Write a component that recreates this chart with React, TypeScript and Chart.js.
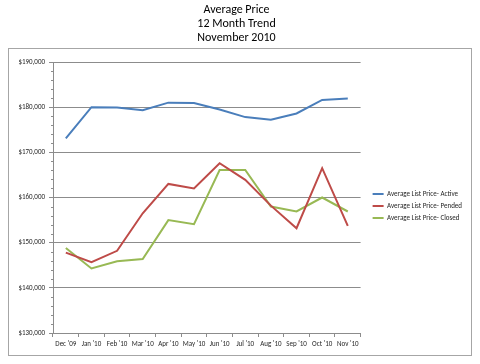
import { useEffect, useRef } from 'react';
import { Chart, registerables } from 'chart.js';

Chart.register(...registerables);

const categories = ["Dec '09", "Jan '10", "Feb '10", "Mar '10", "Apr '10", "May '10", "Jun '10", "Jul '10", "Aug '10", "Sep '10", "Oct '10", "Nov '10"];
const activeValues = [173100, 180000, 179900, 179300, 181000, 180900, 179500, 177800, 177200, 178600, 181600, 181900];
const pendedValues = [147800, 145700, 148200, 156500, 163000, 162000, 167600, 163900, 158200, 153200, 166500, 153700];
const closedValues = [148800, 144300, 145900, 146400, 155000, 154100, 166100, 166100, 158000, 156900, 160000, 156900];
const seriesLabels = ['Average List Price- Active', 'Average List Price- Pended', 'Average List Price- Closed'];
const seriesColors = ['#4a7ebb', '#be4b48', '#98b954'];
const titleLines = ['Average Price', '12 Month Trend', 'November 2010'];
const yMin = 130000;
const yMax = 190000;
const yStep = 10000;
const yMinorStep = 2000;

const FONT = 'Carlito, Lato, "Liberation Sans", sans-serif';
const LEGEND_SHIFT_X = 7;
const LEGEND_SHIFT_Y = 30;

const framePlugin = {
  id: 'frame',
  beforeDraw(chart: any) {
    const ctx = chart.ctx;
    ctx.save();
    ctx.fillStyle = '#ffffff';
    ctx.fillRect(0, 0, chart.width, chart.height);
    ctx.restore();
  },
  afterLayout(chart: any) {
    const lg = chart.legend;
    if (lg) {
      lg.left += LEGEND_SHIFT_X;
      lg.right += LEGEND_SHIFT_X;
      lg.top += LEGEND_SHIFT_Y;
      lg.bottom += LEGEND_SHIFT_Y;
    }
  },
  afterDraw(chart: any) {
    const ctx = chart.ctx;
    const y = chart.scales.y;
    ctx.save();
    ctx.strokeStyle = '#a6a6a6';
    ctx.lineWidth = 1;
    ctx.strokeRect(8.5, 48.5, 463, 307);
    ctx.strokeStyle = '#8c8c8c';
    for (let v = yMin; v <= yMax; v += yMinorStep) {
      if (v % yStep === 0) continue;
      const py = Math.round(y.getPixelForValue(v)) + 0.5;
      ctx.beginPath();
      ctx.moveTo(y.right - 2, py);
      ctx.lineTo(y.right, py);
      ctx.stroke();
    }
    ctx.restore();
  },
};

export default function App() {
  const ref = useRef<HTMLCanvasElement | null>(null);
  useEffect(() => {
    if (!ref.current) return;
    const mk = (i: number, data: number[]) => ({
      label: seriesLabels[i],
      data,
      borderColor: seriesColors[i],
      backgroundColor: seriesColors[i],
      borderWidth: 2,
      pointRadius: 0,
      tension: 0,
    });
    const chart = new Chart(ref.current, {
      type: 'line',
      data: {
        labels: categories,
        datasets: [mk(0, activeValues), mk(1, pendedValues), mk(2, closedValues)],
      },
      plugins: [framePlugin],
      options: {
        animation: false,
        responsive: false,
        devicePixelRatio: 1,
        layout: { padding: { left: 8, right: 15, top: 0, bottom: 12 } },
        plugins: {
          title: {
            display: true,
            text: titleLines,
            color: '#000',
            font: { family: FONT, size: 12, weight: 'normal', lineHeight: 14 / 12 },
            padding: { top: 3, bottom: 17 },
          },
          legend: {
            position: 'right',
            align: 'center',
            labels: {
              color: '#262626',
              font: { family: FONT, size: 7 },
              boxWidth: 11,
              boxHeight: 2,
              padding: 5,
              generateLabels: (c: any) =>
                (Chart.defaults.plugins.legend.labels.generateLabels as any)(c).map((l: any) => ({ ...l, lineWidth: 0 })),
            },
          },
          tooltip: { enabled: false },
        },
        scales: {
          x: {
            offset: true,
            grid: { display: true, drawOnChartArea: false, offset: true, tickLength: 4, color: '#8c8c8c' },
            border: { color: '#8c8c8c' },
            ticks: { color: '#262626', font: { family: FONT, size: 7 }, padding: 3, maxRotation: 0, autoSkip: false },
            afterFit: (s: any) => { s.height = 19; },
          },
          y: {
            min: yMin,
            max: yMax,
            grid: { color: '#8c8c8c', tickLength: 4 },
            border: { color: '#8c8c8c' },
            ticks: {
              stepSize: yStep,
              color: '#262626',
              font: { family: FONT, size: 7 },
              padding: 4,
              callback: (v: any) => '$' + Number(v).toLocaleString('en-US'),
            },
            afterFit: (s: any) => { s.width = 45; },
          },
        },
      },
    });
    return () => chart.destroy();
  }, []);
  return (
    <canvas ref={ref} width={480} height={364} style={{ position: 'absolute', left: 0, top: 0, width: 480, height: 364 }} />
  );
}
